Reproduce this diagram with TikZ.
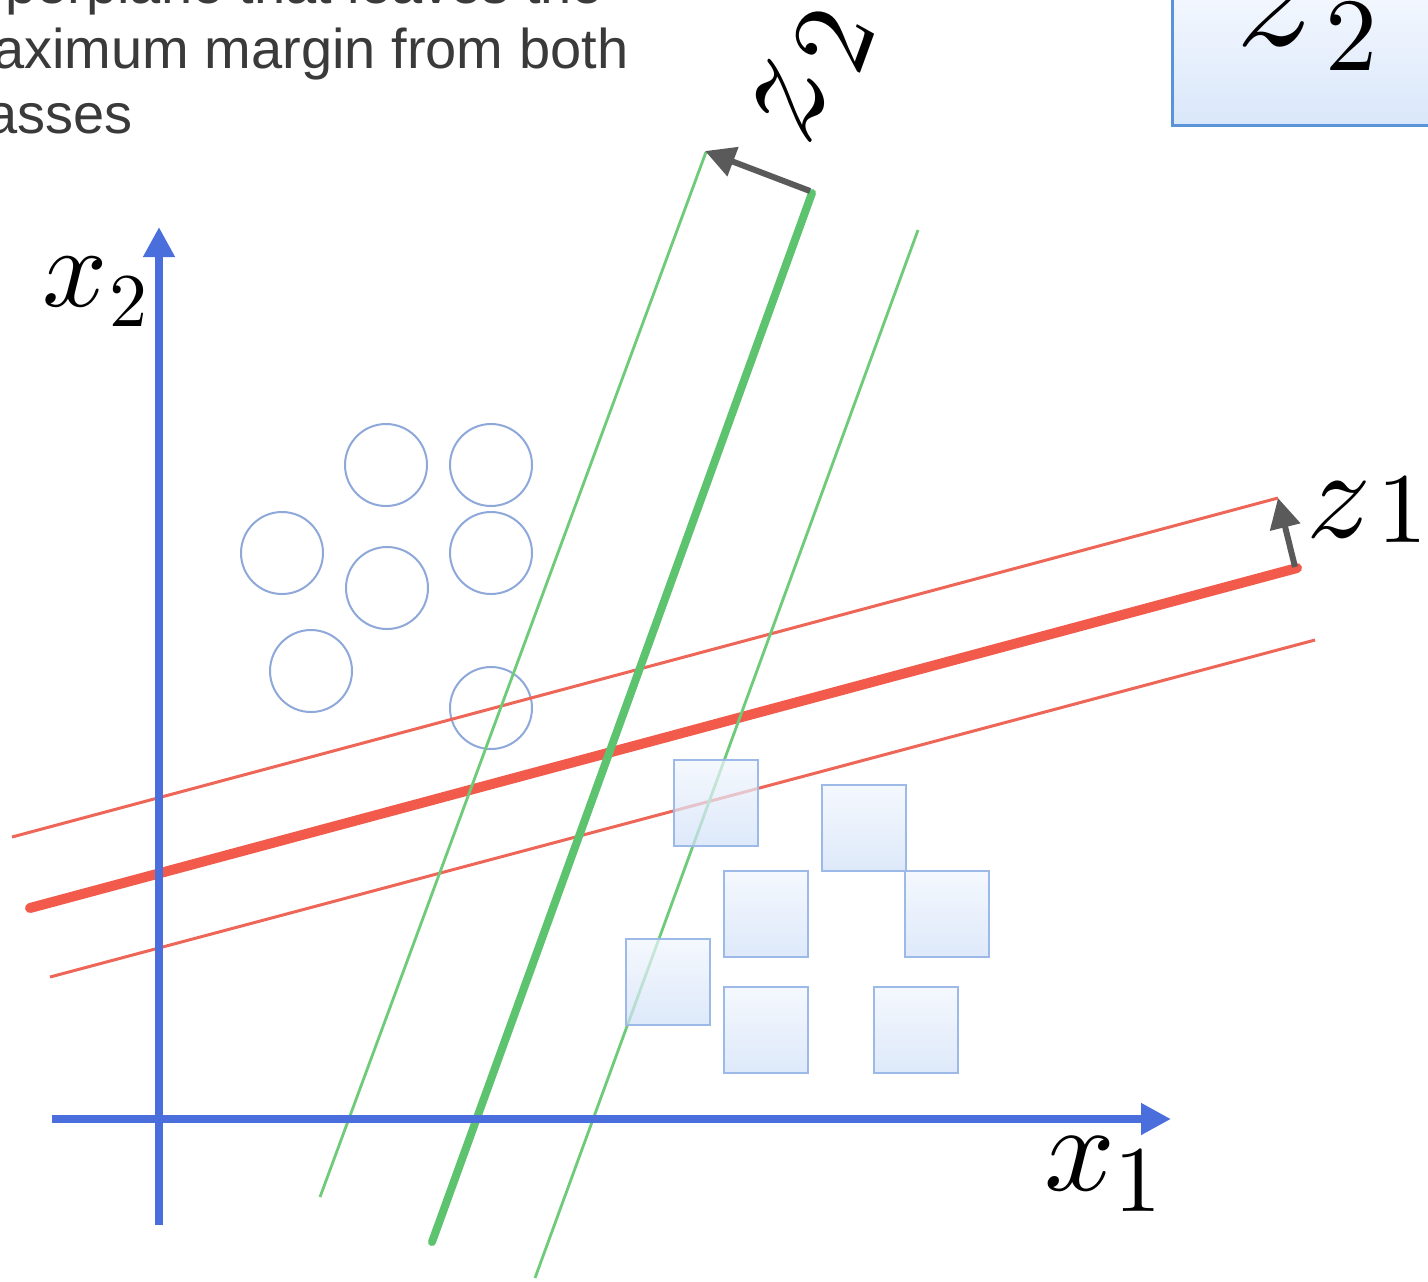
\documentclass[tikz,border=0pt]{standalone}
\usepackage{fontspec}
\DeclareFontShape{OML}{cmm}{m}{it}{<->cmmi10}{}
\DeclareFontShape{OT1}{cmr}{m}{n}{<->cmr10}{}
\newfontfamily\labelsans{Liberation Sans}
\usetikzlibrary{arrows.meta}
\definecolor{axisblue}{HTML}{4A6FDD}
\definecolor{redthick}{HTML}{F25A4B}
\definecolor{redthin}{HTML}{EE6658}
\definecolor{greenthick}{HTML}{5DC36E}
\definecolor{greenthin}{HTML}{6DCB79}
\definecolor{arrowgray}{HTML}{5A5A5A}
\definecolor{circblue}{HTML}{8EA8DA}
\definecolor{sqedge}{HTML}{9DB9E8}
\definecolor{sqtop}{HTML}{F1F6FE}
\definecolor{sqbottom}{HTML}{D0E0F8}
\definecolor{boxedge}{HTML}{5B93D8}
\definecolor{boxtop}{HTML}{F6F9FF}
\definecolor{boxbottom}{HTML}{D9E7FA}
\definecolor{textgray}{HTML}{3A3A3A}
% #1 letter size, #2 digit size, #3 drop, #4 letter, #5 digit, #6 gap
\newcommand{\sublbl}[6]{{\fontsize{#1}{#1}\selectfont$#4$}\kern#6\raisebox{-#3}{\fontsize{#2}{#2}\selectfont$#5$}}
\begin{document}
\begin{tikzpicture}[x=0.5pt,y=-0.5pt,
  txt/.style={anchor=base west,inner sep=0pt,text=textgray,font=\labelsans\fontsize{28}{34}\selectfont},
  mlabel/.style={inner sep=0pt,text=black},
  axis/.style={draw=axisblue,line width=4pt,-{Triangle[length=15pt,width=15pt]}},
  redbold/.style={draw=redthick,line width=5pt,line cap=round},
  redfine/.style={draw=redthin,line width=1.5pt},
  greenbold/.style={draw=greenthick,line width=4pt,line cap=round},
  greenfine/.style={draw=greenthin,line width=1.4pt},
  circ/.style={draw=circblue,line width=1pt},
  sq/.style={draw=sqedge,line width=1.2pt,top color=sqtop,bottom color=sqbottom,fill opacity=0.7},
  normalarrow/.style={draw=arrowgray,line width=3pt,-{Triangle[length=15pt,width=15pt]}},
  boxstyle/.style={draw=boxedge,line width=1.5pt,top color=boxtop,bottom color=boxbottom}
]
\useasboundingbox (0,0) rectangle (1428,1281);
\clip (0,0) rectangle (1428,1281);
\fill[white] (0,0) rectangle (1428,1281);

% text lines
\node[txt] (t1) at (5,3) {perplane that leaves the};
\node[txt] (t2) at (-7,68) {aximum margin from both};
\node[txt] (t3) at (-14,133) {asses};

% top-right box
\draw[boxstyle] (1172,-20) rectangle (1450,125);
\node[mlabel,anchor=base west] (zbox) at (1236,45) {\sublbl{78pt}{52pt}{12.5pt}{z}{2}{5pt}};

% circles
\foreach \cx/\cy in {386/465, 491/465, 282/553, 387/588, 491/553, 311/671, 491/708}
  \draw[circ] (\cx,\cy) circle[radius=20.5pt];

% coordinates of lines
\coordinate (ra) at (30,908);   \coordinate (rb) at (1297,568);
\coordinate (rua) at (12,837);  \coordinate (rub) at (1278,498);
\coordinate (rla) at (50,977);  \coordinate (rlb) at (1315,640);
\coordinate (ga) at (432,1242); \coordinate (gb) at (812,193);
\coordinate (gla) at (320,1197);\coordinate (glb) at (706,152);
\coordinate (gra) at (535,1278);\coordinate (grb) at (918,230);

% red lines
\draw[redfine] (rua) -- (rub);
\draw[redfine] (rla) -- (rlb);
\draw[redbold] (ra) -- (rb);

% green lines
\draw[greenfine] (gla) -- (glb);
\draw[greenfine] (gra) -- (grb);
\draw[greenbold] (ga) -- (gb);

% axes
\coordinate (yb) at (159,1225); \coordinate (yt) at (159,227);
\coordinate (xl) at (52,1119);  \coordinate (xr) at (1171,1119);
\draw[axis] (yb) -- (yt);
\draw[axis] (xl) -- (xr);

% squares
\foreach \sx/\sy in {674/760, 822/785, 724/871, 905/871, 626/939, 724/987, 874/987}
  \draw[sq] (\sx,\sy) rectangle ++(84,86);

% normal arrows
\coordinate (z1tail) at (1295,567); \coordinate (z1tip) at (1278,498);
\coordinate (z2tail) at (810,191);  \coordinate (z2tip) at (705,151);
\draw[normalarrow] (z1tail) -- (z1tip);
\draw[normalarrow] (z2tail) -- (z2tip);

% labels
\node[mlabel] (lx2) at (95,292) {\sublbl{57pt}{38pt}{10pt}{x}{2}{1pt}};
\node[mlabel] (lx1) at (1103,1174) {\sublbl{62pt}{47pt}{10.5pt}{x}{1}{0pt}};
\node[mlabel] (lz1) at (1367,510) {\sublbl{64pt}{50pt}{2.5pt}{z}{1}{3pt}};
\node[mlabel,rotate=70] (lz2) at (812,76) {\sublbl{76pt}{56pt}{12pt}{z}{2}{3pt}};
\end{tikzpicture}
\end{document}
